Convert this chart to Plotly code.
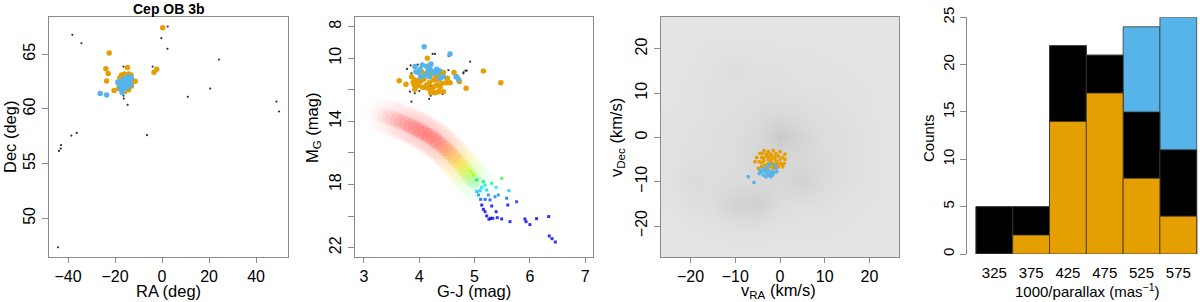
import plotly.graph_objects as go

# ---------------- DATA ----------------
# Panel 1: sky positions (deg)
ra_field = [-38.15, -34.3, 2.41, -0.29, 2.3, 24.2, 20.5, 10.95, 48.67, 49.8, -4.0, -16.4, -6.4,
            -36.3, -38.6, -43.0, -43.1, -43.85, -44.27, -14.66, -16.3, -16.4, 0.6, -15.6, -14.5,
            -17.5, -13.2]
dec_field = [66.77, 66.0, 67.53, 66.46, 65.49, 64.51, 61.86, 61.1, 60.67, 59.76, 63.87, 63.87, 57.6,
             57.8, 57.56, 56.68, 56.37, 56.16, 47.34, 60.37, 60.94, 61.2, 67.3, 62.3, 62.8,
             61.6, 62.0]
ra_orange = [0.28, -22.5, -23.9, -22.9, -23.6, -14.7, -2.28, -3.42, -20.4, -18.4, -11.4, -17.2,
             -17.2, -16.1, -17.6, -16.9, -14.4, -14.0, -15.7, -14.5, -15.1, -13.4, -13.0, -16.5,
             -18.6, -15.5, -14.8, -16.0, -13.8, -15.0, -17.9, -16.3, -13.6, -14.2, -15.8, -17.0,
             -12.6, -18.0, -14.9, -16.7, -13.2, -15.3, -16.2, -14.1, -17.4]
dec_orange = [67.41, 65.12, 63.66, 63.23, 62.56, 63.78, 63.63, 63.35, 61.67, 61.86, 62.53, 63.0,
              63.1, 62.9, 62.65, 62.4, 62.55, 62.35, 62.2, 61.98, 61.8, 62.7, 62.1, 61.98,
              62.35, 62.75, 63.0, 63.2, 62.9, 62.5, 62.85, 62.6, 62.2, 61.75, 61.6, 62.0,
              62.45, 62.1, 62.15, 62.8, 63.1, 62.35, 62.15, 63.2, 62.25]
ra_blue = [-26.3, -23.6, -17.0, -18.8, -18.2, -17.6, -17.0, -16.4, -15.8, -15.2, -14.6, -13.9,
           -13.3, -16.6, -15.6, -14.9, -17.3, -16.0, -14.2, -13.0, -17.8, -15.1, -16.9]
dec_blue = [61.4, 61.28, 61.5, 62.45, 62.2, 62.4, 62.6, 62.45, 62.3, 62.5, 62.7, 62.5,
            62.2, 61.95, 61.9, 61.95, 62.05, 62.8, 62.95, 62.8, 61.85, 62.15, 61.75]

# Panel 2: colour-magnitude diagram
gj_blue = [4.09, 4.557, 3.923, 4.056, 4.135, 4.213, 4.014, 4.165, 4.243, 4.316, 4.364, 4.267,
           3.984, 4.104, 4.183, 4.376, 4.436, 4.665, 4.708, 4.026, 3.942, 4.195, 4.328]
mg_blue = [9.27, 9.73, 10.53, 10.43, 10.53, 10.36, 10.70, 10.79, 10.85, 10.70, 10.79, 10.96,
           10.91, 11.06, 11.17, 11.27, 11.17, 11.17, 11.34, 11.17, 10.85, 10.64, 10.91]
gj_orange = [3.640, 3.761, 3.923, 3.893, 3.911, 3.990, 4.032, 4.086, 4.147, 4.165, 4.044, 4.135,
             4.225, 4.304, 4.436, 4.485, 4.557, 4.629, 4.678, 4.726, 4.847, 5.160, 5.474, 3.923,
             4.104, 4.165, 4.225, 4.267, 4.316, 4.346, 4.286, 4.376, 4.207, 4.002, 4.406, 4.509,
             4.135, 4.062, 3.966, 4.255, 4.328, 4.183, 4.436, 3.863, 4.376]
mg_orange = [11.42, 11.65, 11.38, 11.53, 11.70, 11.59, 11.42, 11.31, 10.01, 10.49, 10.85, 10.96,
             11.00, 11.17, 10.91, 11.55, 11.55, 10.91, 11.17, 11.48, 11.91, 10.81, 11.55, 11.97,
             11.84, 11.91, 12.01, 11.80, 11.70, 12.12, 12.18, 11.84, 12.18, 11.38, 11.59, 11.27,
             11.70, 11.84, 11.76, 11.38, 11.38, 11.55, 12.12, 11.17, 11.06]
gj_black = [4.285, 4.92, 3.86, 3.78, 3.845, 3.92, 4.18, 4.21, 4.41, 4.86, 4.80, 3.86, 4.53,
            3.972, 4.243, 4.835, 3.833, 4.002, 4.207, 4.424, 4.798, 4.394, 4.165, 4.286, 4.527]
mg_black = [9.73, 10.22, 12.75, 10.68, 10.45, 12.22, 12.58, 11.76, 12.22, 10.79, 10.89, 10.96, 9.86,
            10.41, 9.73, 10.79, 12.12, 12.08, 12.37, 12.27, 10.96, 11.70, 11.80, 11.06, 10.75]
# field-star sequence: ridge of the dense cloud and its relative density
band_gj = [3.30, 3.38, 3.46, 3.54, 3.62, 3.70, 3.78, 3.86, 3.94, 4.02, 4.10, 4.18, 4.26, 4.33,
           4.40, 4.47, 4.53, 4.59, 4.65, 4.71, 4.77, 4.82, 4.87, 4.92, 4.97, 5.02, 5.07]
band_mg = [13.60, 13.68, 13.76, 13.85, 13.95, 14.06, 14.18, 14.31, 14.45, 14.60, 14.76, 14.93,
           15.11, 15.30, 15.50, 15.71, 15.92, 16.14, 16.37, 16.60, 16.83, 17.04, 17.25, 17.47,
           17.68, 17.88, 18.05]
band_density = [0.15, 0.20, 0.27, 0.35, 0.45, 0.55, 0.65, 0.75, 0.85, 0.95, 1.0, 1.0, 1.0, 0.95,
                0.9, 0.9, 0.9, 0.9, 0.9, 0.95, 1.0, 1.0, 0.9, 0.75, 0.55, 0.4, 0.3]
# sparse faint field stars
gj_faint = [5.16, 5.19, 5.13, 5.10, 5.22, 5.25, 5.04, 5.07, 5.11, 5.19, 5.28, 5.37, 5.39, 5.31,
            5.62, 5.58, 5.76, 5.60, 5.13, 5.16, 5.19, 5.31, 5.39, 5.22, 5.26, 5.29, 5.33, 5.41,
            5.49, 5.64, 5.91, 5.93, 6.00, 6.12, 6.34, 6.35, 6.40, 6.46, 4.92, 4.98, 5.04, 5.49, 5.43]
mg_faint = [17.82, 18.03, 18.18, 18.39, 18.35, 18.66, 18.45, 18.66, 18.94, 18.94, 18.98, 18.77,
            18.18, 17.92, 18.39, 18.87, 19.09, 19.30, 19.30, 19.57, 19.72, 19.36, 19.72, 19.99,
            20.20, 20.14, 20.14, 20.10, 20.18, 20.35, 20.18, 20.35, 20.54, 20.16, 20.03, 21.26,
            21.43, 21.64, 17.18, 17.40, 17.71, 17.61, 18.66]

# Panel 3: tangential velocities (km/s)
vra_orange = [-3.58, -2.61, -1.49, -2.09, -3.13, -4.10, -5.22, -4.63, -3.58, -2.61, -1.87, -1.12,
              -0.37, 0.0, 0.60, 1.12, -0.75, -1.64, -2.61, -3.36, -4.10, -4.85, 0.37, 0.90,
              -1.49, -2.24, -0.37, 1.12, -2.99, -3.88, 0.0, -0.90, 0.60, -4.10, -5.60, -4.48,
              -2.09, -0.75, -3.13, -1.87, -1.12, -2.61, -3.73, 0.0, -1.49]
vdec_orange = [-3.01, -3.23, -3.01, -3.76, -4.21, -4.51, -4.51, -5.49, -5.26, -4.96, -4.74, -4.36,
               -4.21, -4.96, -4.51, -4.96, -5.49, -5.86, -5.86, -6.24, -6.62, -6.99, -6.02, -5.86,
               -6.47, -6.62, -6.62, -3.76, -3.76, -3.61, -3.23, -3.61, -6.62, -5.71, -5.49, -3.61,
               -5.49, -6.02, -6.99, -3.98, -4.96, -4.36, -4.74, -5.86, -6.99]
vra_blue = [-7.09, -5.82, -4.63, -3.73, -2.99, -2.61, -2.24, -3.13, -1.87, -0.90, -1.49, -2.39,
            -3.58, -4.10, -2.09, -0.75, -4.48, -3.36, -1.64, -2.61, -1.12, -2.8, -2.3]
vdec_blue = [-8.87, -10.15, -8.12, -8.50, -7.97, -7.37, -8.12, -8.87, -7.74, -6.99, -7.97, -6.24,
             -6.99, -7.74, -8.87, -7.74, -7.37, -7.52, -8.50, -8.50, -6.24, -6.4, -6.1]
# relative density of the field-star velocity cloud on a 5 km/s grid
vel_grid = [-25, -20, -15, -10, -5, 0, 5, 10, 15, 20, 25]
vel_density = [
    [0.25, 0.25, 0.25, 0.25, 0.25, 0.25, 0.25, 0.25, 0.25, 0.25, 0.25],
    [0.25, 0.27, 0.28, 0.32, 0.32, 0.28, 0.28, 0.28, 0.27, 0.25, 0.25],
    [0.27, 0.32, 0.35, 0.48, 0.50, 0.35, 0.32, 0.32, 0.28, 0.27, 0.25],
    [0.27, 0.36, 0.34, 0.36, 0.40, 0.40, 0.48, 0.36, 0.32, 0.28, 0.25],
    [0.27, 0.32, 0.32, 0.34, 0.42, 0.42, 0.40, 0.36, 0.32, 0.28, 0.25],
    [0.27, 0.30, 0.32, 0.34, 0.40, 0.58, 0.45, 0.34, 0.32, 0.28, 0.25],
    [0.27, 0.28, 0.30, 0.32, 0.36, 0.40, 0.36, 0.32, 0.30, 0.27, 0.25],
    [0.25, 0.28, 0.30, 0.30, 0.32, 0.32, 0.30, 0.30, 0.28, 0.27, 0.25],
    [0.25, 0.27, 0.30, 0.34, 0.30, 0.30, 0.28, 0.28, 0.27, 0.25, 0.25],
    [0.25, 0.26, 0.28, 0.28, 0.28, 0.27, 0.27, 0.26, 0.25, 0.25, 0.25],
    [0.25, 0.25, 0.25, 0.25, 0.25, 0.25, 0.25, 0.25, 0.25, 0.25, 0.25],
]

# Panel 4: histogram of 1000/parallax
hist_bins = [325, 375, 425, 475, 525, 575]
hist_blue = [5, 5, 22, 21, 24, 25]
hist_black = [5, 5, 22, 21, 15, 11]
hist_orange = [0, 2, 14, 17, 8, 4]

# ---------------- STYLE ----------------
ORANGE = "#E69F00"
BLUE = "#56B4E9"
BOX = "#8a8a8a"
FONT = "Liberation Sans, Arial, sans-serif"
RAINBOW = [[0.0, "rgb(255,20,20)"], [0.25, "rgb(255,50,40)"], [0.367, "rgb(255,150,0)"],
           [0.483, "rgb(245,235,0)"], [0.567, "rgb(170,255,0)"], [0.617, "rgb(0,240,80)"],
           [0.70, "rgb(0,225,255)"], [0.80, "rgb(0,120,255)"], [0.883, "rgb(0,0,255)"],
           [1.0, "rgb(0,0,230)"]]

W, H = 1200, 302
def fx(p): return p / W
def fy(p): return 1 - p / H

fig = go.Figure()

# Panel 1
fig.add_trace(go.Scatter(x=ra_field, y=dec_field, mode="markers", xaxis="x", yaxis="y",
                         marker=dict(size=2.2, color="#333333"), showlegend=False))
fig.add_trace(go.Scatter(x=ra_orange, y=dec_orange, mode="markers", xaxis="x", yaxis="y",
                         marker=dict(size=5.5, color=ORANGE), showlegend=False))
fig.add_trace(go.Scatter(x=ra_blue, y=dec_blue, mode="markers", xaxis="x", yaxis="y",
                         marker=dict(size=5.5, color=BLUE), showlegend=False))

# Panel 2 : soft field-star sequence (halo + core), then sparse stars, then members
fig.add_trace(go.Scatter(x=band_gj, y=band_mg, mode="markers", xaxis="x2", yaxis="y2",
                         marker=dict(size=36, color=band_mg, colorscale=RAINBOW, cmin=14, cmax=20,
                                     opacity=[d * 0.04 for d in band_density], line=dict(width=0)),
                         showlegend=False, hoverinfo="skip"))
fig.add_trace(go.Scatter(x=band_gj, y=band_mg, mode="markers", xaxis="x2", yaxis="y2",
                         marker=dict(size=16, color=band_mg, colorscale=RAINBOW, cmin=14, cmax=20,
                                     opacity=[d * 0.16 for d in band_density], line=dict(width=0)),
                         showlegend=False, hoverinfo="skip"))
fig.add_trace(go.Scatter(x=gj_faint, y=mg_faint, mode="markers", xaxis="x2", yaxis="y2",
                         marker=dict(size=3, symbol="square", color=mg_faint, colorscale=RAINBOW,
                                     cmin=14, cmax=20, opacity=0.8, line=dict(width=0)),
                         showlegend=False))
fig.add_trace(go.Scatter(x=gj_black, y=mg_black, mode="markers", xaxis="x2", yaxis="y2",
                         marker=dict(size=2.2, color="#333333"), showlegend=False))
fig.add_trace(go.Scatter(x=gj_orange, y=mg_orange, mode="markers", xaxis="x2", yaxis="y2",
                         marker=dict(size=5.5, color=ORANGE), showlegend=False))
fig.add_trace(go.Scatter(x=gj_blue, y=mg_blue, mode="markers", xaxis="x2", yaxis="y2",
                         marker=dict(size=5.5, color=BLUE), showlegend=False))

# Panel 3
fig.add_trace(go.Heatmap(x=vel_grid, y=vel_grid, z=vel_density, xaxis="x3", yaxis="y3",
                         colorscale=[[0, "#f8f8f8"], [1, "#a8a8a8"]], zmin=0, zmax=1,
                         zsmooth="best", showscale=False, hoverinfo="skip"))
fig.add_trace(go.Scatter(x=vra_orange, y=vdec_orange, mode="markers", xaxis="x3", yaxis="y3",
                         marker=dict(size=3.8, color=ORANGE), showlegend=False))
fig.add_trace(go.Scatter(x=vra_blue, y=vdec_blue, mode="markers", xaxis="x3", yaxis="y3",
                         marker=dict(size=3.8, color=BLUE), showlegend=False))

# Panel 4
for vals, col in [(hist_blue, BLUE), (hist_black, "#000000"), (hist_orange, ORANGE)]:
    fig.add_trace(go.Bar(x=hist_bins, y=vals, width=50, xaxis="x4", yaxis="y4",
                         marker=dict(color=col, line=dict(color="#3a3a3a", width=0.8)),
                         showlegend=False))

tickfont = dict(size=16, color="black", family=FONT)
def box_axis(domain, rng, anchor, **kw):
    d = dict(domain=domain, range=rng, anchor=anchor, showline=True, mirror=True,
             linecolor=BOX, linewidth=1.3, ticks="outside", ticklen=6, tickcolor=BOX,
             tickwidth=1.2, showgrid=False, zeroline=False, tickfont=tickfont, automargin=False)
    d.update(kw)
    return d

ydom = [fy(257), fy(17)]
fig.update_layout(
    width=W, height=H, margin=dict(l=0, r=0, t=0, b=0),
    paper_bgcolor="white", plot_bgcolor="white", font=dict(family=FONT, color="black"),
    barmode="overlay", showlegend=False,
    xaxis=box_axis([fx(49), fx(288)], [-48.1, 53.6], "y", tickvals=[-40, -20, 0, 20, 40], ticklen=5),
    yaxis=box_axis(ydom, [46.46, 68.4], "x", tickvals=[50, 55, 60, 65], tickangle=-90),
    xaxis2=box_axis([fx(355), fx(593)], [2.84, 7.14], "y2", tickvals=[3, 4, 5, 6, 7], ticklen=5),
    yaxis2=box_axis(ydom, [22.59, 7.39], "x2", tickvals=[8, 10, 14, 18, 22], tickangle=-90,
                    minor=dict(tickvals=[12, 16, 20], ticks="outside", ticklen=6,
                               tickcolor=BOX, tickwidth=1.2, showgrid=False)),
    xaxis3=box_axis([fx(661), fx(899)], [-26.6, 26.6], "y3", tickvals=[-20, -10, 0, 10, 20], ticklen=5),
    yaxis3=box_axis(ydom, [-27.0, 27.2], "x3", tickvals=[-20, -10, 0, 10, 20], tickangle=-90),
    xaxis4=dict(domain=[fx(966.7), 1.0], range=[287.4, 604.5], anchor="y4", showline=False,
                ticks="outside", ticklen=5, tickcolor="rgba(0,0,0,0)", tickvals=hist_bins,
                showgrid=False, zeroline=False, automargin=False,
                tickfont=dict(size=15, color="black", family=FONT)),
    yaxis4=dict(domain=[fy(254), fy(17.3)], range=[0, 25], anchor="x4", showline=True,
                linecolor=BOX, linewidth=1.3, ticks="outside", ticklen=6, tickcolor=BOX,
                tickwidth=1.2, tickvals=[0, 5, 10, 15, 20, 25], tickangle=-90, showgrid=False,
                zeroline=False, automargin=False,
                tickfont=dict(size=15, color="black", family=FONT)),
)

def label(text, x, y, size=16.5, angle=0):
    fig.add_annotation(text=text, x=fx(x), y=fy(y), xref="paper", yref="paper",
                       showarrow=False, textangle=angle, xanchor="center", yanchor="middle",
                       borderpad=0, font=dict(size=size, color="black", family=FONT))

label("<b>Cep OB 3b</b>", 168.5, 9, size=14)
label("RA (deg)", 168.5, 291)
label("Dec (deg)", 10, 137, angle=-90)
label("G-J (mag)", 474, 291)
label("M<sub>G</sub> (mag)", 313, 128, angle=-90)
label("v<sub>RA</sub> (km/s)", 778, 291)
label("v<sub>Dec</sub> (km/s)", 617, 138, angle=-90)
label("Counts", 928, 138, size=15, angle=-90)
label("1000/parallax (mas<sup>−1</sup>)", 1087, 290, size=15)

fig.write_html("out.html", config={"displayModeBar": False},
               post_script="document.body.style.margin='0px';document.body.style.padding='0px';")
